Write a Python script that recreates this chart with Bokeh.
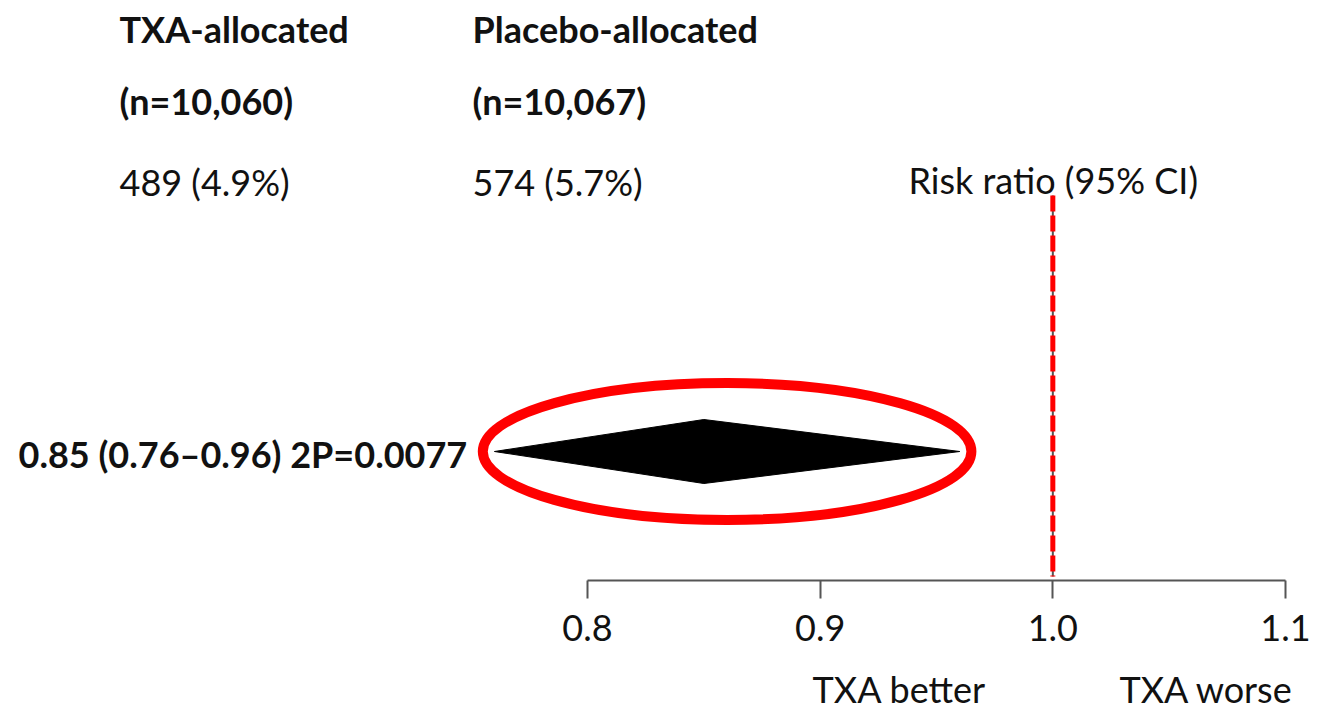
from bokeh.plotting import figure
from bokeh.models import Range1d, Label, LinearAxis, FixedTicker, PrintfTickFormatter
from bokeh.embed import file_html
from bokeh.resources import INLINE

# --- trial summary -------------------------------------------------------
arm_names = ["TXA-allocated", "Placebo-allocated"]
arm_sizes = ["(n=10,060)", "(n=10,067)"]
arm_events = [489, 574]
arm_pcts = [4.9, 5.7]

rr_est = 0.85
rr_lo = 0.76
rr_hi = 0.96
p_value = "0.0077"

axis_ticks = [0.8, 0.9, 1.0, 1.1]
null_value = 1.0
side_labels = ["TXA better", "TXA worse"]

# --- canvas geometry -------------------------------------------------------
W, H = 1319, 714
FRAME_H = 580                      # plotting frame; the risk-ratio axis sits under it
AX_LEFT_PX, AX_RIGHT_PX = 587, 1285
px_per_unit = (AX_RIGHT_PX - AX_LEFT_PX) / (axis_ticks[-1] - axis_ticks[0])
x_start = axis_ticks[0] - AX_LEFT_PX / px_per_unit
x_end = x_start + W / px_per_unit


def px(xpix):
    """horizontal canvas pixel -> risk-ratio data units"""
    return x_start + xpix / px_per_unit


FONT = "Lato"
SIZE = "36px"
INK = "#111111"
BASE_SHIFT = 14                    # Label baseline sits this far below its y

p = figure(width=W, height=H,
           x_range=Range1d(x_start, x_end),
           y_range=Range1d(FRAME_H, 0),          # y grows downward, in pixels
           x_axis_type=None, y_axis_type=None,
           output_backend="svg", toolbar_location=None,
           min_border_left=0, min_border_right=0,
           min_border_top=0, min_border_bottom=H - FRAME_H)
p.outline_line_color = None
p.background_fill_color = "white"
p.border_fill_color = "white"

# --- risk-ratio axis ---------------------------------------------------------
axis = LinearAxis(ticker=FixedTicker(ticks=axis_ticks),
                  formatter=PrintfTickFormatter(format="%.1f"),
                  bounds=(axis_ticks[0], axis_ticks[-1]))
axis.axis_line_color = "#555555"
axis.axis_line_width = 2
axis.major_tick_line_color = "#555555"
axis.major_tick_line_width = 2
axis.major_tick_in = 0
axis.major_tick_out = 18
axis.minor_tick_line_color = None
axis.major_label_text_font = FONT
axis.major_label_text_font_size = SIZE
axis.major_label_text_color = INK
axis.major_label_standoff = 16
p.add_layout(axis, "below")

# --- direction labels, carried by a bare second axis under the first ----------
side_x = [px(899), px(1206)]
side_axis = LinearAxis(ticker=FixedTicker(ticks=side_x),
                       major_label_overrides=dict(zip(side_x, side_labels)))
side_axis.axis_line_color = None
side_axis.major_tick_line_color = None
side_axis.minor_tick_line_color = None
side_axis.major_tick_in = 0
side_axis.major_tick_out = 0
side_axis.major_label_text_font = FONT
side_axis.major_label_text_font_size = SIZE
side_axis.major_label_text_color = INK
side_axis.major_label_standoff = 23
p.add_layout(side_axis, "below")


def put(text, xpix, ybase, bold=False):
    p.add_layout(Label(x=px(xpix), y=ybase - BASE_SHIFT, text=text,
                       text_font=FONT, text_font_size=SIZE,
                       text_font_style="bold" if bold else "normal",
                       text_color=INK, text_align="left",
                       text_baseline="alphabetic"))


# --- column headers -----------------------------------------------------------
col_x = [119, 472]
for cx, name, size, ev, pct in zip(col_x, arm_names, arm_sizes, arm_events, arm_pcts):
    put(name, cx, 42, bold=True)
    put(size, cx, 114, bold=True)
    put(f"{ev} ({pct}%)", cx, 195)

put("Risk ratio (95% CI)", 908, 193)

# --- line of no effect ---------------------------------------------------------
p.segment(x0=[null_value], y0=[195], x1=[null_value], y1=[576],
          line_color="#555555", line_width=2)
p.segment(x0=[null_value], y0=[195], x1=[null_value], y1=[576],
          line_color="#ff0000", line_width=5, line_dash="16 4")

# --- pooled estimate -------------------------------------------------------------
row_y = 451
half_h = 32
p.patch(x=[rr_lo, rr_est, rr_hi, rr_est],
        y=[row_y, row_y - half_h, row_y, row_y + half_h],
        fill_color="black", line_color="black", line_width=1)

put(f"{rr_est:.2f} ({rr_lo:.2f}\u2013{rr_hi:.2f}) 2P={p_value}", 18, 467, bold=True)

# highlight ring round the diamond
p.ellipse(x=[(rr_lo + rr_hi) / 2], y=[row_y],
          width=[(rr_hi - rr_lo) + 0.010], height=[137],
          fill_color=None, line_color="#ff0000", line_width=10)

open("out.html", "w").write(file_html(p, INLINE))
